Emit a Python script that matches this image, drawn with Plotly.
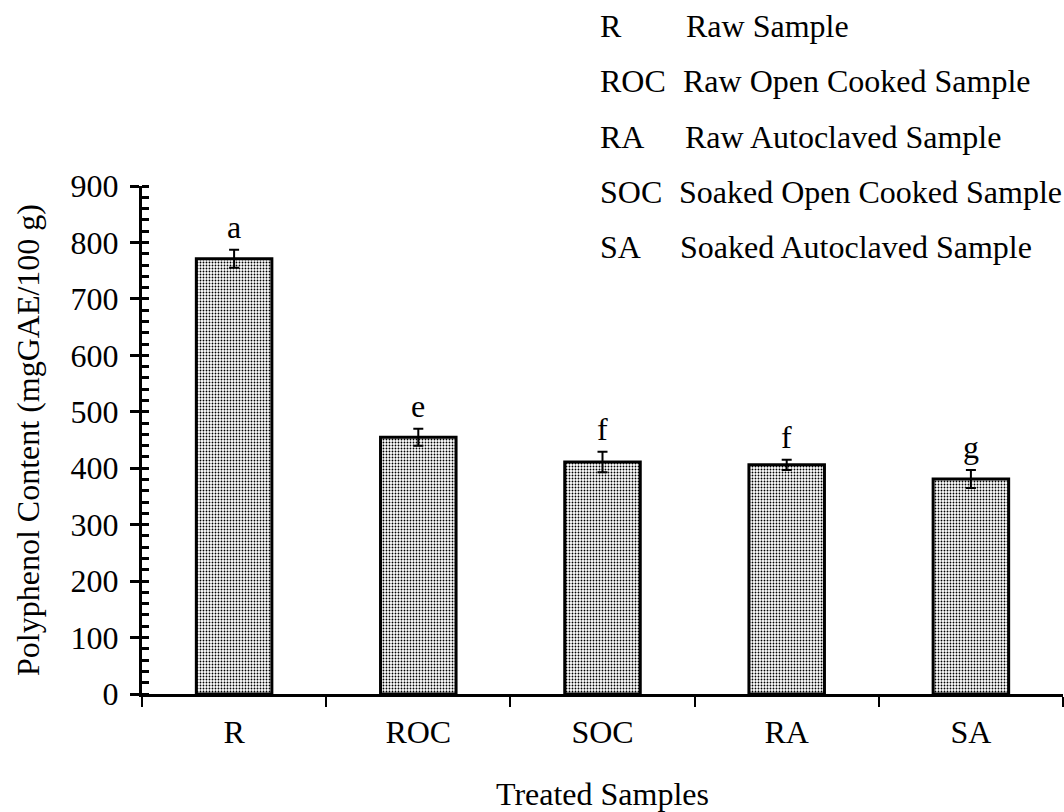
import plotly.graph_objects as go

categories = ["R", "ROC", "SOC", "RA", "SA"]
values = [771, 455, 411, 406, 381]
errors = [16, 15, 18, 9, 16]
letters = ["a", "e", "f", "f", "g"]
legend_abbr = ["R", "ROC", "RA", "SOC", "SA"]
legend_desc = ["Raw Sample", "Raw Open Cooked Sample", "Raw Autoclaved Sample",
               "Soaked Open Cooked Sample", "Soaked Autoclaved Sample"]
y_ticks = [0, 100, 200, 300, 400, 500, 600, 700, 800, 900]

FONT = "Liberation Serif, Times New Roman, serif"
FS = 32

fig = go.Figure()
fig.add_trace(go.Bar(
    x=categories, y=values,
    width=0.41,
    marker=dict(color="white",
                line=dict(color="black", width=3),
                pattern=dict(shape=".", fgcolor="black", bgcolor="white",
                             size=3, solidity=0.3, fillmode="replace")),
    error_y=dict(type="data", array=errors, color="black", thickness=2, width=5),
    showlegend=False,
))

# significance letters
for c, v, e, l in zip(categories, values, errors, letters):
    fig.add_annotation(x=c, y=v + e, text=l, showarrow=False, yanchor="bottom",
                       yshift=3, font=dict(family=FONT, size=FS, color="black"))

# legend text block
L, T, B = 142, 186, 694
H = B - T
W = 1063 - L
row_y = [26, 81, 137, 192, 247]
desc_x = [684, 681, 683, 677, 678]
for a, d, py, dx in zip(legend_abbr, legend_desc, row_y, desc_x):
    fig.add_annotation(xref="paper", yref="paper", x=(598 - L) / W, y=(B - py) / H,
                       text=a, showarrow=False, xanchor="left", yanchor="middle",
                       font=dict(family=FONT, size=FS, color="black"))
    fig.add_annotation(xref="paper", yref="paper", x=(dx - L) / W, y=(B - py) / H,
                       text=d, showarrow=False, xanchor="left", yanchor="middle",
                       font=dict(family=FONT, size=FS, color="black"))

fig.update_layout(
    width=1064, height=812,
    margin=dict(l=L, r=1064 - 1063, t=T, b=812 - B, pad=0),
    paper_bgcolor="white", plot_bgcolor="white",
    font=dict(family=FONT, size=FS, color="black"),
    xaxis=dict(
        type="category", tickson="boundaries", ticks="outside", ticklen=10,
        tickwidth=2, tickcolor="black", showline=True, linecolor="black",
        linewidth=3, showgrid=False, zeroline=False, ticklabelstandoff=8,
        title=dict(text="Treated Samples", standoff=34,
                   font=dict(family=FONT, size=FS)),
        tickfont=dict(family=FONT, size=FS),
    ),
    yaxis=dict(
        range=[0, 900], tickvals=y_ticks, ticks="outside", ticklen=9,
        tickwidth=3, tickcolor="black", showline=True, linecolor="black",
        linewidth=3, showgrid=False, zeroline=False, ticklabelstandoff=5,
        minor=dict(dtick=20, ticks="inside", ticklen=7, tickwidth=3,
                   tickcolor="black", showgrid=False),
        title=dict(text="Polyphenol Content (mgGAE/100 g)", standoff=22,
                   font=dict(family=FONT, size=FS)),
        tickfont=dict(family=FONT, size=FS),
    ),
    yaxis2=dict(
        range=[0, 900], tickvals=y_ticks, ticks="inside", ticklen=7,
        tickwidth=3, tickcolor="black", overlaying="y", side="left",
        showticklabels=False, showgrid=False, zeroline=False, showline=False,
    ),
)
fig.add_trace(go.Scatter(x=[categories[0]], y=[0], yaxis="y2", mode="markers",
                         marker=dict(opacity=0), showlegend=False, hoverinfo="skip"))

fig.write_html("out.html")
